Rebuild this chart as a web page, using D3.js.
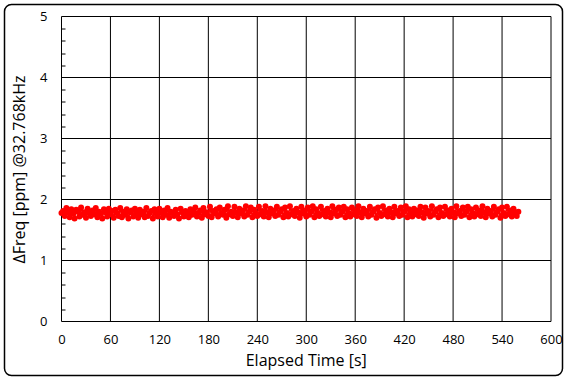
<!DOCTYPE html>
<html>
<head>
<meta charset="utf-8">
<script src="https://cdn.jsdelivr.net/npm/d3@7"></script>
<style>
  body { margin: 0; background: #fff; }
  text { font-family: "Open Sans", "Noto Sans", sans-serif; fill: #000; }
</style>
</head>
<body>
<div id="chart"></div>
<script>
// data (sample every 2 s)
var sampleStep = 2;
var freqValues = [
  1.78, 1.81, 1.73, 1.86, 1.79, 1.71, 1.84, 1.77, 1.69, 1.83, 1.80, 1.72, 1.87, 1.75, 1.79, 1.70, 1.85, 1.78, 1.73, 1.82,
  1.76, 1.86, 1.71, 1.80, 1.77, 1.69, 1.84, 1.79, 1.72, 1.85, 1.76, 1.81, 1.70, 1.83, 1.78, 1.73, 1.86, 1.71, 1.80, 1.75,
  1.84, 1.69, 1.79, 1.82, 1.72, 1.85, 1.77, 1.70, 1.83, 1.76, 1.80, 1.71, 1.86, 1.73, 1.78, 1.81, 1.69, 1.84, 1.77, 1.72,
  1.85, 1.79, 1.71, 1.82, 1.75, 1.86, 1.70, 1.80, 1.78, 1.73, 1.83, 1.76, 1.69, 1.85, 1.79, 1.72, 1.81, 1.77, 1.71, 1.84,
  1.75, 1.80, 1.87, 1.72, 1.78, 1.82, 1.70, 1.86, 1.76, 1.79, 1.73, 1.88, 1.71, 1.81, 1.77, 1.84, 1.72, 1.87, 1.78, 1.75,
  1.83, 1.70, 1.89, 1.76, 1.80, 1.73, 1.88, 1.79, 1.71, 1.85, 1.77, 1.82, 1.72, 1.89, 1.75, 1.80, 1.87, 1.71, 1.83, 1.78,
  1.73, 1.88, 1.76, 1.81, 1.72, 1.89, 1.79, 1.71, 1.85, 1.77, 1.82, 1.73, 1.88, 1.75, 1.80, 1.84, 1.71, 1.87, 1.78, 1.72,
  1.89, 1.76, 1.81, 1.73, 1.85, 1.79, 1.70, 1.88, 1.77, 1.82, 1.72, 1.87, 1.75, 1.80, 1.89, 1.71, 1.84, 1.78, 1.73, 1.88,
  1.76, 1.81, 1.72, 1.85, 1.79, 1.71, 1.89, 1.77, 1.83, 1.73, 1.87, 1.75, 1.80, 1.88, 1.71, 1.84, 1.78, 1.72, 1.87, 1.76,
  1.82, 1.73, 1.89, 1.79, 1.71, 1.85, 1.77, 1.81, 1.72, 1.88, 1.75, 1.80, 1.84, 1.70, 1.87, 1.78, 1.73, 1.89, 1.76, 1.82,
  1.72, 1.85, 1.79, 1.71, 1.88, 1.77, 1.81, 1.73, 1.87, 1.75, 1.80, 1.89, 1.71, 1.84, 1.78, 1.72, 1.85, 1.76, 1.82, 1.73,
  1.88, 1.79, 1.70, 1.87, 1.77, 1.81, 1.72, 1.89, 1.75, 1.80, 1.84, 1.71, 1.87, 1.78, 1.73, 1.88, 1.76, 1.82, 1.72, 1.85,
  1.79, 1.71, 1.89, 1.77, 1.81, 1.73, 1.87, 1.75, 1.80, 1.88, 1.71, 1.84, 1.78, 1.72, 1.87, 1.76, 1.82, 1.73, 1.89, 1.79,
  1.71, 1.85, 1.77, 1.81, 1.72, 1.88, 1.75, 1.80, 1.84, 1.70, 1.87, 1.78, 1.73, 1.88, 1.76, 1.82, 1.72, 1.85, 1.79, 1.73,
  1.80
];
var xTicks = [0, 60, 120, 180, 240, 300, 360, 420, 480, 540, 600];
var yTicks = [0, 1, 2, 3, 4, 5];
var xTitle = "Elapsed Time [s]";
var yTitle = "\u0394Freq [ppm] @32.768kHz";

var svgWidth = 570;
var svgHeight = 381;

var margin = { top: 16.5, right: 19, bottom: 59.5, left: 61.5 };
var chartWidth = svgWidth - margin.left - margin.right;
var chartHeight = svgHeight - margin.top - margin.bottom;

var points = freqValues.map(function(v, i) { return { t: i * sampleStep, f: v }; });

var svg = d3.select("#chart").append("svg")
  .attr("width", svgWidth)
  .attr("height", svgHeight);

// outer frame
svg.append("rect")
  .attr("x", 4.5).attr("y", 4.5)
  .attr("width", 558).attr("height", 371)
  .attr("rx", 7).attr("ry", 7)
  .attr("fill", "#fff")
  .attr("stroke", "#000")
  .attr("stroke-width", 1.5);

var chartGroup = svg.append("g")
  .attr("transform", `translate(${margin.left}, ${margin.top})`);

var x = d3.scaleLinear().domain([0, 600]).range([0, chartWidth]);
var y = d3.scaleLinear().domain([0, 5]).range([chartHeight, 0]);

// grid
chartGroup.append("g").selectAll("line")
  .data(xTicks)
  .enter().append("line")
  .attr("x1", d => x(d)).attr("x2", d => x(d))
  .attr("y1", 0).attr("y2", chartHeight)
  .attr("stroke", "#000").attr("stroke-width", 1);

chartGroup.append("g").selectAll("line")
  .data(yTicks)
  .enter().append("line")
  .attr("x1", 0).attr("x2", chartWidth)
  .attr("y1", d => y(d)).attr("y2", d => y(d))
  .attr("stroke", "#000").attr("stroke-width", 1);

// minor ticks on left axis (inside)
chartGroup.append("g").selectAll("line")
  .data(d3.range(0, 5.01, 0.2).filter(d => Math.abs(d - Math.round(d)) > 0.01))
  .enter().append("line")
  .attr("x1", 0).attr("x2", 4)
  .attr("y1", d => Math.round(y(d)) + 0.5).attr("y2", d => Math.round(y(d)) + 0.5)
  .attr("stroke", "#000").attr("stroke-width", 1);

// axes labels
var bottomAxis = d3.axisBottom(x).tickValues(xTicks).tickSize(0).tickPadding(13);
var leftAxis = d3.axisLeft(y).tickValues(yTicks).tickFormat(d3.format("d")).tickSize(0).tickPadding(14);

var gx = chartGroup.append("g")
  .attr("transform", `translate(0, ${chartHeight})`)
  .call(bottomAxis);
var gy = chartGroup.append("g").call(leftAxis);
[gx, gy].forEach(function(g) {
  g.select(".domain").remove();
  g.selectAll("text").style("font-size", "13px").attr("fill", "#000");
});

// series
chartGroup.append("path")
  .datum(points)
  .attr("fill", "none")
  .attr("stroke", "#ff0000")
  .attr("stroke-width", 1.5)
  .attr("d", d3.line().x(d => x(d.t)).y(d => y(d.f)));

chartGroup.selectAll("circle")
  .data(points)
  .enter().append("circle")
  .attr("cx", d => x(d.t))
  .attr("cy", d => y(d.f))
  .attr("r", 3)
  .attr("fill", "#ff0000");

// titles
chartGroup.append("text")
  .attr("x", chartWidth / 2)
  .attr("y", chartHeight + 44)
  .attr("text-anchor", "middle")
  .style("font-size", "16px")
  .text(xTitle);

chartGroup.append("text")
  .attr("transform", "rotate(-90)")
  .attr("x", -153)
  .attr("y", -37)
  .attr("text-anchor", "middle")
  .style("font-size", "16px")
  .text(yTitle);
</script>
</body>
</html>
